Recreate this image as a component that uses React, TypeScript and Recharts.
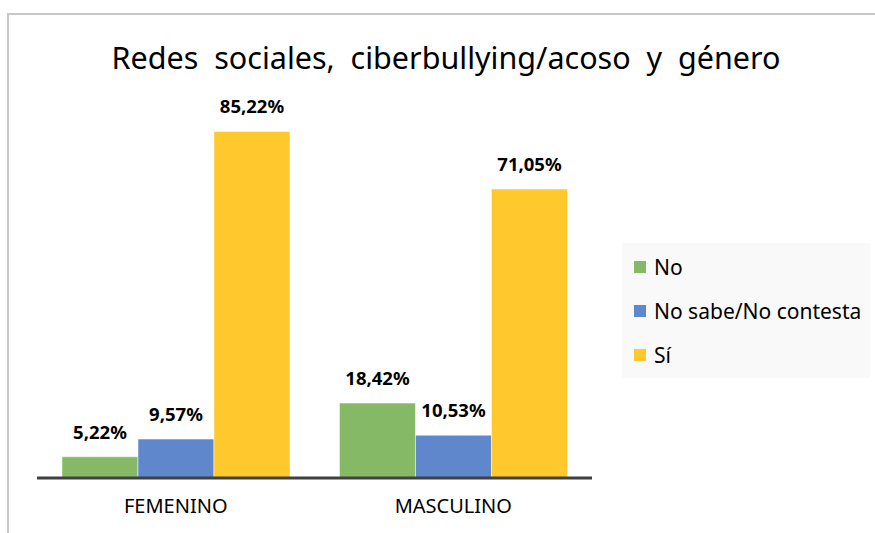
import React from "react";
import { BarChart, Bar, XAxis, YAxis, LabelList } from "recharts";

const categories = ["FEMENINO", "MASCULINO"];
const noValues = [5.22, 18.42];
const noSabeValues = [9.57, 10.53];
const siValues = [85.22, 71.05];

const seriesNames = ["No", "No sabe/No contesta", "Sí"];
const seriesColors = ["#85b966", "#5f87cb", "#ffc82c"];

const data = categories.map((c, i) => ({
  cat: c,
  no: noValues[i],
  noSabe: noSabeValues[i],
  si: siValues[i],
}));

const keys = ["no", "noSabe", "si"];

const fmt = (v: any) => `${Number(v).toFixed(2).replace(".", ",")}%`;

const font = "'Noto Sans', sans-serif";

function LegendBox() {
  return (
    <div
      style={{
        position: "absolute",
        left: 622,
        top: 243,
        background: "#f9f9f9",
        width: 248,
        height: 135,
        boxSizing: "border-box",
        padding: "2px 0 0 12px",
        fontFamily: font,
        fontSize: 21,
        color: "#000",
      }}
    >
      {seriesNames.map((n, i) => (
        <div
          key={n}
          style={{ display: "flex", alignItems: "center", height: 44 }}
        >
          <span
            style={{
              display: "inline-block",
              width: 12,
              height: 12,
              background: seriesColors[i],
              marginRight: 8,
            }}
          />
          <span>{n}</span>
        </div>
      ))}
    </div>
  );
}

export default function App() {
  return (
    <div
      style={{
        position: "absolute",
        left: 0,
        top: 0,
        width: 875,
        height: 533,
        overflow: "hidden",
        background: "#fff",
      }}
    >
      <div
        style={{
          position: "absolute",
          left: 7,
          top: 13,
          width: 900,
          height: 560,
          borderTop: "2px solid #c8c8c8",
          borderLeft: "2px solid #c8c8c8",
        }}
      />
      <div
        style={{
          position: "absolute",
          left: 0,
          width: 892,
          top: 36,
          textAlign: "center",
          fontFamily: font,
          fontSize: 30.5,
          whiteSpace: "pre",
          color: "#000",
        }}
      >
        {"Redes  sociales,  ciberbullying/acoso  y  género"}
      </div>
      <LegendBox />
      <div style={{ position: "absolute", left: 0, top: 0 }}>
        <BarChart
          width={875}
          height={533}
          data={data}
          margin={{ top: 112, right: 283, bottom: 20, left: 37 }}
          barCategoryGap="9%"
          barGap={0}
        >
          <XAxis
            dataKey="cat"
            height={35}
            tickLine={false}
            axisLine={{ stroke: "#404040", strokeWidth: 3 }}
            tick={{ fill: "#000", fontSize: 20, fontFamily: font }}
            tickMargin={15}
          />
          <YAxis hide domain={[0, 90]} />
          {keys.map((k, i) => (
            <Bar
              key={k}
              dataKey={k}
              name={seriesNames[i]}
              fill={seriesColors[i]}
              stroke="#ffffff"
              strokeOpacity={0.5}
              strokeWidth={1}
              isAnimationActive={false}
            >
              <LabelList
                dataKey={k}
                position="top"
                offset={18}
                formatter={fmt}
                style={{
                  fill: "#000",
                  fontSize: 18.5,
                  fontWeight: 700,
                  fontFamily: font,
                }}
              />
            </Bar>
          ))}
        </BarChart>
      </div>
    </div>
  );
}
